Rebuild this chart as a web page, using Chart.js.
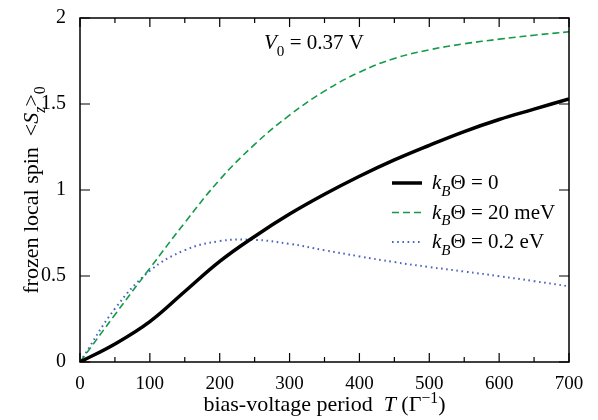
<!DOCTYPE html>
<html><head><meta charset="utf-8">
<script src="https://cdn.jsdelivr.net/npm/chart.js@4.4.1/dist/chart.umd.min.js"></script>
<style>html,body{margin:0;padding:0;background:#fff}</style>
</head><body>
<canvas id="c" width="598" height="420"></canvas>
<script>
// bias-voltage period T (Γ^-1)
const periods = [0,50,100,150,200,250,300,350,400,450,500,550,600,650,700];
// frozen local spin <S_z>_0
const spinTheta0      = [0,0.105,0.235,0.41,0.585,0.73,0.86,0.975,1.08,1.175,1.26,1.34,1.41,1.47,1.53];
const spinTheta20meV  = [0,0.275,0.545,0.81,1.06,1.265,1.435,1.575,1.685,1.765,1.815,1.85,1.877,1.90,1.92];
const spinTheta02eV   = [0,0.31,0.53,0.65,0.703,0.71,0.687,0.65,0.614,0.581,0.552,0.526,0.499,0.47,0.44];
const xTickValues = [0,100,200,300,400,500,600,700];
const yTickValues = [0,0.5,1,1.5,2];
const legendNumbers = ["0","20 meV","0.2 eV"];
const annotationText = "0.37 V";

const FONT = "'Liberation Serif', 'DejaVu Serif', serif";
const toXY = vals => periods.map((t,i)=>({x:t,y:vals[i]}));

function drawRich(ctx, segs, x, y, size, align){
  const parts = segs.map(s=>{
    const sz = s.pos ? size*0.72 : size;
    const f = (s.it?'italic ':'') + sz + 'px ' + FONT;
    ctx.font = f;
    return {t:s.t, f, w:ctx.measureText(s.t).width, dy: s.pos==='sub'? size*0.33 : s.pos==='sup'? -size*0.38 : 0};
  });
  const total = parts.reduce((a,p)=>a+p.w,0);
  let cx = align==='center' ? x-total/2 : align==='right' ? x-total : x;
  ctx.textBaseline='alphabetic'; ctx.textAlign='left';
  for(const p of parts){ ctx.font=p.f; ctx.fillText(p.t,cx,y+p.dy); cx+=p.w; }
}

const decor = {
  id:'decor',
  afterDatasetsDraw(chart){
    const ctx = chart.ctx, a = chart.chartArea, xs = chart.scales.x, ys = chart.scales.y;
    ctx.save();
    ctx.strokeStyle='#000'; ctx.lineWidth=1.5;
    ctx.strokeRect(a.left, a.top, a.right-a.left, a.bottom-a.top);
    ctx.lineWidth=1.2;
    ctx.beginPath();
    for(let v=0; v<=700; v+=50){
      const px = xs.getPixelForValue(v), L = (v%100===0)?9:5;
      ctx.moveTo(px,a.bottom); ctx.lineTo(px,a.bottom-L);
      ctx.moveTo(px,a.top); ctx.lineTo(px,a.top+L);
    }
    for(const v of yTickValues){
      const py = ys.getPixelForValue(v);
      ctx.moveTo(a.left,py); ctx.lineTo(a.left+10,py);
      ctx.moveTo(a.right,py); ctx.lineTo(a.right-10,py);
    }
    ctx.stroke();
    ctx.fillStyle='#000';
    drawRich(ctx,[{t:'bias-voltage period  '},{t:'T',it:1},{t:' (Γ'},{t:'−1',pos:'sup'},{t:')'}],(a.left+a.right)/2,411,22,'center');
    ctx.save(); ctx.translate(38,(a.top+a.bottom)/2); ctx.rotate(-Math.PI/2);
    drawRich(ctx,[{t:'frozen local spin  <'},{t:'S',it:1},{t:'z',it:1,pos:'sub'},{t:'>'},{t:'0',pos:'sub'}],0,0,22,'center');
    ctx.restore();
    drawRich(ctx,[{t:'V',it:1},{t:'0',pos:'sub'},{t:' = '+annotationText}],264,49,21,'left');
    const ds = chart.data.datasets;
    ds.forEach((d,i)=>{
      const y = 183 + i*29.5;
      ctx.save();
      ctx.strokeStyle=d.borderColor; ctx.lineWidth=d.borderWidth; ctx.setLineDash(d.borderDash||[]);
      ctx.beginPath(); ctx.moveTo(392,y); ctx.lineTo(422,y); ctx.stroke();
      ctx.restore();
      drawRich(ctx,[{t:'k',it:1},{t:'B',it:1,pos:'sub'},{t:'Θ = '+legendNumbers[i]}],432,y+6,21,'left');
    });
    ctx.restore();
  }
};

new Chart(document.getElementById('c'),{
  type:'line',
  data:{datasets:[
    {label:'kBΘ = 0', data:toXY(spinTheta0), borderColor:'#000', borderWidth:3.5, pointRadius:0, tension:0.4, fill:false},
    {label:'kBΘ = 20 meV', data:toXY(spinTheta20meV), borderColor:'#139a48', borderWidth:1.6, borderDash:[7,4], pointRadius:0, tension:0.4, fill:false},
    {label:'kBΘ = 0.2 eV', data:toXY(spinTheta02eV), borderColor:'#4a62c4', borderWidth:2, borderDash:[1.6,3.6], pointRadius:0, tension:0.4, fill:false}
  ]},
  options:{
    responsive:false, animation:false, devicePixelRatio:1,
    layout:{padding:{top:18,right:29,left:0,bottom:0}},
    plugins:{legend:{display:false},tooltip:{enabled:false}},
    scales:{
      x:{type:'linear',min:0,max:700,
        afterBuildTicks(s){ s.ticks = xTickValues.map(v=>({value:v})); },
        afterFit(s){ s.height=58; },
        grid:{display:false}, border:{display:false},
        ticks:{font:{family:FONT,size:19},color:'#000',padding:3,maxRotation:0,callback:v=>String(v)}},
      y:{type:'linear',min:0,max:2,
        afterBuildTicks(s){ s.ticks = yTickValues.map(v=>({value:v})); },
        afterFit(s){ s.width=80; },
        grid:{display:false}, border:{display:false},
        ticks:{font:{family:FONT,size:20},color:'#000',padding:6,callback:v=>String(v)}}
    }
  },
  plugins:[decor]
});
</script>
</body></html>
